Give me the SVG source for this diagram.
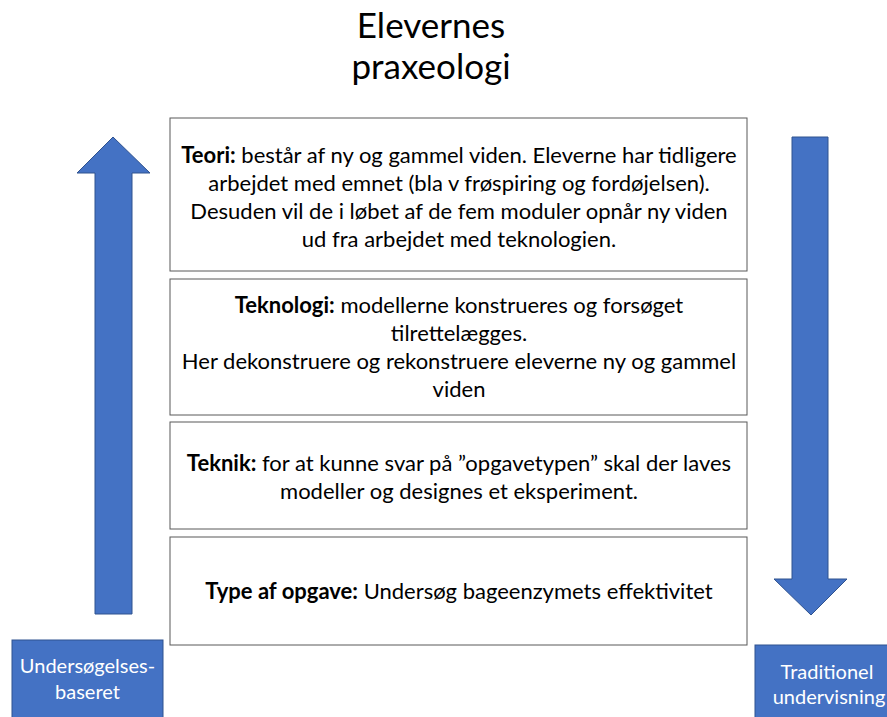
<svg xmlns="http://www.w3.org/2000/svg" width="887" height="717" viewBox="0 0 887 717">
  <style>
    .lvl { fill: #ffffff; stroke: #595959; stroke-width: 1; }
    .arrow { fill: #4472c4; stroke: #2f528f; stroke-width: 1; }
    .tag { fill: #4472c4; stroke: #2f528f; stroke-width: 1; }
    .txt { font-family: Lato, "Open Sans", "Liberation Sans", sans-serif; font-size: 22px; fill: #000000; text-anchor: middle; }
    .tagtxt { font-family: Lato, "Open Sans", "Liberation Sans", sans-serif; font-size: 20px; fill: #ffffff; text-anchor: middle; }
    .title { font-family: Lato, "Open Sans", "Liberation Sans", sans-serif; font-size: 35px; fill: #000000; text-anchor: middle; }
    .b { font-weight: bold; }
  </style>

  <rect width="887" height="717" fill="#ffffff"/>

  <g id="title">
    <text class="title" x="431" y="38">Elevernes</text>
    <text class="title" x="431" y="79">praxeologi</text>
  </g>

  <g id="connectors">
    <!-- upward arrow, left side -->
    <polygon class="arrow" points="113,137 150,173 132,173 132,614 95,614 95,173 77,173"/>
    <!-- downward arrow, right side -->
    <polygon class="arrow" points="792,137 828,137 828,579 847,579 811,615 774,579 792,579"/>
  </g>

  <g id="teori">
    <rect class="lvl" x="170" y="118" width="577" height="153"/>
    <text class="txt" x="459" y="163"><tspan class="b">Teori:</tspan> består af ny og gammel viden. Eleverne har tidligere</text>
    <text class="txt" x="459" y="191">arbejdet med emnet (bla v frøspiring og fordøjelsen).</text>
    <text class="txt" x="459" y="219">Desuden vil de i løbet af de fem moduler opnår ny viden</text>
    <text class="txt" x="459" y="247">ud fra arbejdet med teknologien.</text>
  </g>

  <g id="teknologi">
    <rect class="lvl" x="170" y="279" width="577" height="136"/>
    <text class="txt" x="459" y="313"><tspan class="b">Teknologi:</tspan> modellerne konstrueres og forsøget</text>
    <text class="txt" x="459" y="341">tilrettelægges.</text>
    <text class="txt" x="459" y="369">Her dekonstruere og rekonstruere eleverne ny og gammel</text>
    <text class="txt" x="459" y="397">viden</text>
  </g>

  <g id="teknik">
    <rect class="lvl" x="170" y="422" width="577" height="107"/>
    <text class="txt" x="459" y="471"><tspan class="b">Teknik:</tspan> for at kunne svar på ”opgavetypen” skal der laves</text>
    <text class="txt" x="459" y="499">modeller og designes et eksperiment.</text>
  </g>

  <g id="opgave">
    <rect class="lvl" x="170" y="537" width="577" height="108"/>
    <text class="txt" x="459" y="599"><tspan class="b">Type af opgave:</tspan> Undersøg bageenzymets effektivitet</text>
  </g>

  <g id="undersoegelse">
    <rect class="tag" x="12" y="640" width="151" height="85"/>
    <text class="tagtxt" x="87.5" y="673">Undersøgelses-</text>
    <text class="tagtxt" x="87.5" y="699">baseret</text>
  </g>

  <g id="traditionel">
    <rect class="tag" x="755" y="645" width="140" height="80"/>
    <text class="tagtxt" x="827" y="679">Traditionel</text>
    <text class="tagtxt" x="829" y="704">undervisning</text>
  </g>
</svg>
